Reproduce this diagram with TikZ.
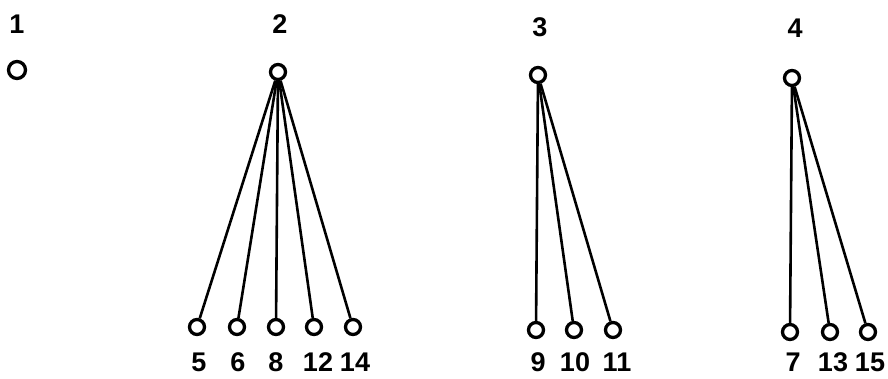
\documentclass[tikz,border=0pt]{standalone}
\usepackage{fontspec}
\setmainfont{Liberation Sans}
\begin{document}
\begin{tikzpicture}[x=1pt,y=-1pt,
  vert/.style={circle,draw,line width=3.3pt,minimum size=15pt,inner sep=0pt},
  lbl/.style={font=\bfseries\fontsize{27}{27}\selectfont,inner sep=0pt},
  edge/.style={line width=2.6pt}]
\useasboundingbox (0,0) rectangle (888,379);
% top labels
\node[lbl] (t1) at (17,24) {1};
\node[lbl] (t2) at (280,24) {2};
\node[lbl] (t3) at (540,27) {3};
\node[lbl] (t4) at (795,28) {4};
% roots
\node[vert,minimum size=17pt] (r1) at (17,70) {};
\node[vert] (r2) at (278,72) {};
\node[vert] (r3) at (538,75) {};
\node[vert] (r4) at (792,78) {};
% leaves of 2
\foreach \n/\x/\lx in {5/197/199,6/237/238,8/276/276,12/314/318,14/353/355}{
  \node[vert] (l\n) at (\x,327) {};
  \node[lbl] (n\n) at (\lx,362) {\n};
  \draw[edge] (r2) -- (l\n);
}
% leaves of 3
\foreach \n/\x/\lx in {9/536/538,10/574/575,11/613/617}{
  \node[vert] (l\n) at (\x,330) {};
  \node[lbl] (n\n) at (\lx,362) {\n};
  \draw[edge] (r3) -- (l\n);
}
% leaves of 4
\foreach \n/\x/\lx in {7/790/793,13/830/833,15/868/870}{
  \node[vert] (l\n) at (\x,332) {};
  \node[lbl] (n\n) at (\lx,362) {\n};
  \draw[edge] (r4) -- (l\n);
}
\end{tikzpicture}
\end{document}
